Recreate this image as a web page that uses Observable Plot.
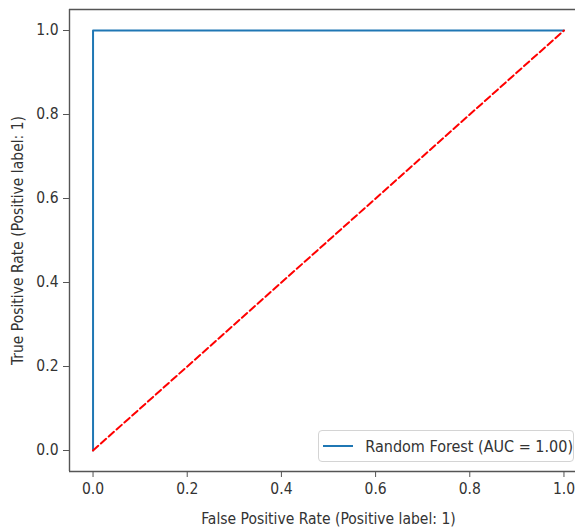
<!DOCTYPE html>
<html>
<head>
<meta charset="utf-8">
<script src="https://cdn.jsdelivr.net/npm/d3@7"></script>
<script src="https://cdn.jsdelivr.net/npm/@observablehq/plot@0.6"></script>
<style>
  html, body { margin: 0; padding: 0; background: #fff; overflow: hidden; }
  #wrap { position: relative; width: 575px; height: 527px; overflow: hidden; }
  #wrap svg { display: block; max-width: none; }
  #legend {
    position: absolute; left: 318px; top: 430px; width: 256px; height: 32px;
    border: 1px solid #d4d4d4; border-radius: 4px; background: rgba(255,255,255,0.8);
    font-family: "DejaVu Sans Condensed", "DejaVu Sans", sans-serif; font-size: 16px; color: #333;
    display: flex; align-items: center; box-sizing: border-box; white-space: nowrap;
  }
  #legend .sw { width: 31px; height: 0; border-top: 2px solid #1f77b4; margin-left: 4px; margin-right: 12px; }
</style>
</head>
<body>
<div id="wrap"><div id="legend"><span class="sw"></span><span id="legtext"></span></div></div>
<script>
// ROC curve for Random Forest
const fpr = [0, 0, 1];
const tpr = [0, 1, 1];
// chance diagonal
const diagX = [0, 1];
const diagY = [0, 1];
const ticks = [0, 0.2, 0.4, 0.6, 0.8, 1.0];
const seriesName = "Random Forest";
const auc = 1.00;
const xLabel = "False Positive Rate (Positive label: 1)";
const yLabel = "True Positive Rate (Positive label: 1)";
// axis limits
const xDomain = [-0.05, 1.05];
const yDomain = [-0.05, 1.05];

const roc = fpr.map((x, i) => ({x, y: tpr[i]}));
const diag = diagX.map((x, i) => ({x, y: diagY[i]}));

document.getElementById("legtext").textContent = `${seriesName} (AUC = ${auc.toFixed(2)})`;

const spine = {stroke: "#555", strokeWidth: 1.4};
// the original picture is cropped on the right: the SVG is wider than the visible window
const chart = Plot.plot({
  width: 600,
  height: 527,
  marginLeft: 69,
  marginRight: 13,
  marginTop: 9,
  marginBottom: 56,
  style: {fontFamily: "DejaVu Sans Condensed, DejaVu Sans, sans-serif", fontSize: "15.5px", color: "#333", background: "#fff"},
  x: {domain: xDomain},
  y: {domain: yDomain},
  marks: [
    Plot.ruleY(yDomain, spine),
    Plot.ruleX(xDomain, spine),
    Plot.axisX({ticks, tickFormat: d3.format(".1f"), tickSize: 6, tickPadding: 5, stroke: "#555",
      label: xLabel, labelAnchor: "center", labelArrow: "none", labelOffset: 52}),
    Plot.axisY({ticks, tickFormat: d3.format(".1f"), tickSize: 6, tickPadding: 5, stroke: "#555",
      label: yLabel, labelAnchor: "center", labelArrow: "none", labelOffset: 58}),
    Plot.line(roc, {x: "x", y: "y", stroke: "#1f77b4", strokeWidth: 2}),
    Plot.line(diag, {x: "x", y: "y", stroke: "#ff0000", strokeWidth: 2, strokeDasharray: "7,3.5"})
  ]
});
document.getElementById("wrap").prepend(chart);
</script>
</body>
</html>
